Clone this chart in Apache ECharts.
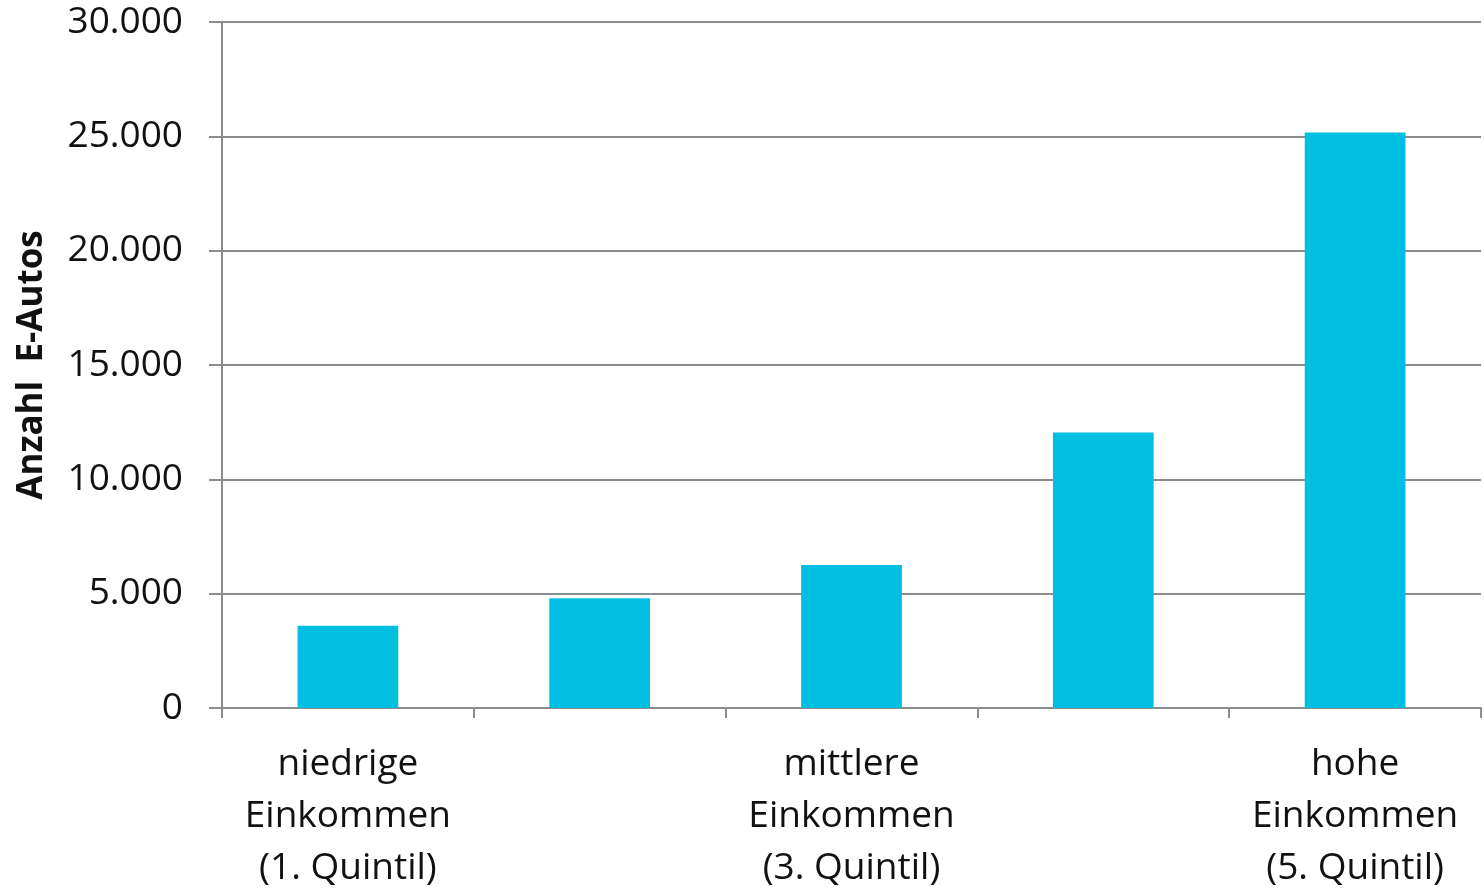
<!DOCTYPE html>
<html>
<head>
<meta charset="utf-8">
<script src="https://cdn.jsdelivr.net/npm/echarts@6/dist/echarts.min.js"></script>
<style>
  html, body { margin: 0; padding: 0; background: #fff; }
  #chart { width: 1484px; height: 889px; }
</style>
</head>
<body>
<div id="chart"></div>
<script>
// Einkommensgruppen (Quintile); nur 1., 3. und 5. Quintil beschriftet
const categories = [
  'niedrige\nEinkommen\n(1. Quintil)',
  '',
  'mittlere\nEinkommen\n(3. Quintil)',
  '',
  'hohe\nEinkommen\n(5. Quintil)'
];
const eAutos = [3600, 4800, 6250, 12050, 25170];
const yTicks = { min: 0, max: 30000, interval: 5000 };

const fmt = v => v === 0 ? '0' : String(v).replace(/\B(?=(\d{3})+(?!\d))/g, '.');
const gray = '#8c8c8c';
const font = '"Open Sans", "Noto Sans", sans-serif';

const chart = echarts.init(document.getElementById('chart'));
chart.setOption({
  animation: false,
  grid: { left: 222, right: 3, top: 22, bottom: 181, outerBoundsMode: 'none' },
  xAxis: {
    type: 'category',
    data: categories,
    axisLine: { lineStyle: { color: gray, width: 2 } },
    axisTick: { show: true, length: 10, lineStyle: { color: gray, width: 2 }, alignWithLabel: false },
    axisLabel: {
      interval: 0, margin: 30, color: '#111', fontFamily: font, fontSize: 37, lineHeight: 52
    }
  },
  yAxis: {
    type: 'value',
    min: yTicks.min, max: yTicks.max, interval: yTicks.interval,
    name: 'Anzahl  E-Autos',
    nameLocation: 'middle',
    nameGap: 172,
    nameRotate: 90,
    nameTextStyle: { color: '#111', fontFamily: font, fontSize: 35, fontWeight: 'bold' },
    axisLine: { show: true, lineStyle: { color: gray, width: 2 } },
    axisTick: { show: true, length: 13, lineStyle: { color: gray, width: 2 } },
    splitLine: { lineStyle: { color: gray, width: 2 } },
    axisLabel: { formatter: fmt, margin: 39, color: '#111', fontFamily: font, fontSize: 37 }
  },
  series: [{
    type: 'bar',
    data: eAutos,
    barWidth: '40%',
    itemStyle: { color: '#00BFE0' }
  }]
});
</script>
</body>
</html>
